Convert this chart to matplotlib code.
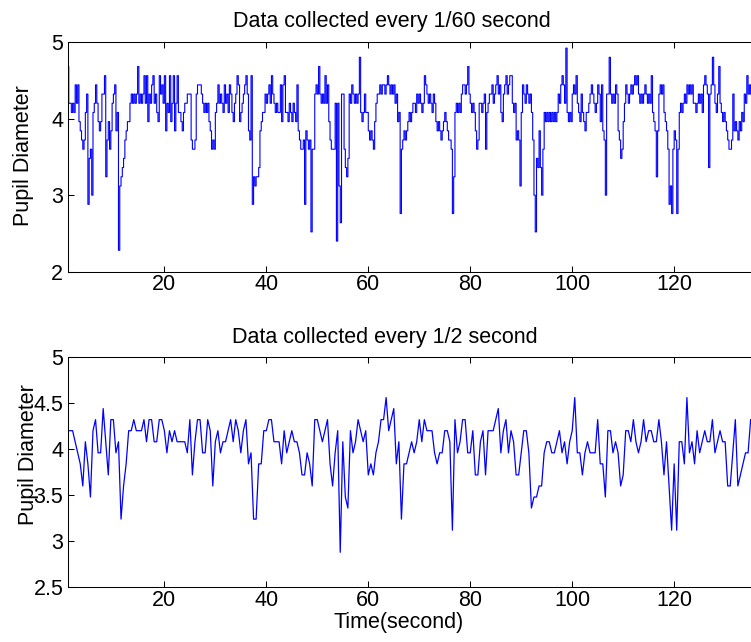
import matplotlib
matplotlib.use("Agg")
import matplotlib.pyplot as plt
import numpy as np

plt.rcParams['font.family'] = ['Liberation Sans', 'DejaVu Sans']

# pupil diameter is quantised in steps of 0.12, values stored as step counts
STEP = 0.12

# every 1/2 second, t = 1 ... 135
slow_levels = [
    35, 35, 35, 34, 33, 32, 30, 34, 32, 29, 35, 36, 33, 33, 37, 34, 31, 36, 36, 33,
    34, 27, 30, 32, 35, 35, 36, 35, 35, 35, 36, 34, 36, 36, 34, 34, 36, 36, 35, 33,
    35, 34, 35, 34, 34, 34, 34, 33, 36, 31, 34, 36, 36, 33, 33, 36, 35, 30, 34, 35,
    33, 34, 34, 35, 36, 34, 36, 35, 33, 35, 36, 32, 33, 27, 27, 32, 32, 35, 35, 36,
    36, 34, 34, 34, 32, 35, 33, 34, 35, 34, 34, 33, 31, 31, 33, 32, 30, 36, 36, 35,
    34, 35, 36, 32, 30, 33, 35, 24, 34, 29, 28, 35, 33, 34, 36, 35, 34, 35, 31, 32,
    31, 33, 34, 36, 36, 38, 35, 36, 37, 32, 34, 27, 32, 32, 33, 34, 33, 34, 36, 34,
    36, 35, 35, 35, 33, 32, 33, 33, 35, 35, 34, 26, 36, 33, 34, 36, 36, 33, 33, 35,
    31, 31, 34, 35, 31, 35, 35, 35, 36, 37, 33, 35, 36, 33, 35, 34, 31, 31, 33, 35,
    35, 33, 28, 29, 29, 30, 30, 33, 34, 34, 33, 33, 34, 35, 33, 34, 32, 34, 35, 38,
    33, 33, 31, 33, 34, 33, 33, 33, 36, 32, 32, 29, 35, 35, 33, 34, 33, 30, 31, 35,
    35, 34, 36, 34, 33, 34, 36, 34, 35, 35, 34, 34, 36, 34, 31, 34, 30, 26, 32, 26,
    34, 34, 32, 38, 33, 34, 32, 35, 33, 34, 35, 34, 34, 36, 33, 34, 35, 34, 34, 30,
    30, 33, 36, 30, 31, 32, 33, 33, 36,
]
slow_t0, slow_dt = 1.0, 0.5

fast_levels = [
    39, 35, 35, 34, 35, 34, 37, 35, 37, 33, 32, 31, 30, 31, 34, 36, 24, 29, 30, 25,
    34, 35, 37, 35, 33, 32, 33, 36, 36, 38, 27, 31, 33, 30, 32, 35, 36, 37, 32, 34,
    19, 26, 27, 28, 29, 31, 32, 33, 33, 35, 36, 35, 36, 35, 36, 39, 35, 36, 35, 36,
    38, 35, 38, 33, 36, 35, 37, 38, 35, 36, 34, 33, 38, 36, 37, 35, 38, 32, 35, 34,
    38, 33, 35, 38, 32, 35, 38, 34, 34, 33, 32, 34, 35, 35, 36, 36, 36, 31, 30, 30,
    31, 36, 37, 37, 37, 36, 35, 34, 35, 34, 35, 33, 32, 30, 31, 30, 34, 35, 37, 35,
    36, 35, 34, 37, 35, 36, 34, 37, 36, 34, 33, 35, 36, 38, 37, 33, 34, 35, 36, 37,
    38, 36, 32, 31, 38, 24, 27, 26, 27, 27, 28, 32, 33, 34, 34, 36, 35, 36, 37, 35,
    38, 36, 35, 34, 35, 34, 34, 37, 33, 37, 38, 34, 34, 33, 35, 34, 33, 35, 34, 33,
    37, 32, 31, 30, 30, 31, 24, 32, 31, 30, 31, 21, 30, 30, 36, 37, 36, 39, 36, 35,
    36, 35, 38, 35, 37, 33, 31, 30, 30, 30, 35, 20, 35, 26, 22, 36, 36, 30, 28, 27,
    29, 36, 35, 37, 36, 35, 36, 35, 36, 40, 34, 33, 34, 36, 34, 34, 32, 31, 32, 31,
    30, 33, 35, 36, 36, 37, 36, 37, 37, 36, 37, 38, 37, 36, 37, 36, 37, 35, 36, 33,
    34, 23, 30, 31, 32, 31, 32, 33, 34, 33, 34, 35, 35, 34, 36, 35, 36, 35, 34, 35,
    38, 37, 36, 35, 36, 35, 34, 36, 35, 33, 32, 33, 32, 31, 32, 33, 34, 33, 32, 31,
    31, 30, 23, 27, 34, 35, 34, 35, 34, 36, 37, 37, 36, 37, 39, 36, 35, 34, 35, 34,
    32, 30, 31, 35, 35, 34, 35, 36, 30, 34, 35, 36, 36, 37, 35, 36, 37, 38, 36, 37,
    34, 33, 36, 37, 38, 36, 37, 38, 38, 35, 34, 35, 31, 32, 31, 26, 34, 37, 36, 35,
    37, 36, 35, 36, 34, 31, 25, 21, 29, 28, 32, 28, 25, 30, 34, 33, 34, 33, 34, 33,
    34, 33, 34, 33, 34, 36, 35, 37, 38, 37, 35, 41, 34, 33, 34, 33, 36, 37, 36, 38,
    35, 34, 33, 36, 34, 33, 32, 34, 34, 35, 36, 37, 36, 35, 34, 35, 37, 36, 33, 37,
    32, 31, 25, 36, 36, 40, 36, 35, 36, 35, 37, 36, 32, 31, 29, 30, 33, 35, 37, 36,
    35, 36, 37, 36, 37, 38, 37, 38, 36, 35, 36, 35, 36, 37, 36, 35, 36, 35, 38, 34,
    33, 32, 27, 32, 36, 37, 36, 37, 34, 33, 32, 30, 24, 26, 23, 30, 32, 31, 23, 30,
    34, 35, 34, 35, 36, 35, 37, 36, 37, 36, 37, 35, 35, 34, 35, 36, 35, 36, 34, 37,
    38, 37, 36, 28, 36, 37, 40, 37, 35, 34, 36, 39, 35, 34, 33, 34, 33, 32, 31, 30,
    30, 31, 36, 32, 33, 32, 31, 33, 32, 34, 33, 36, 35, 38, 36, 37, 36,
]
fast_t0, fast_dt = 1.0, 0.25

slow = np.array(slow_levels) * STEP
fast = np.array(fast_levels) * STEP
t_slow = slow_t0 + slow_dt * np.arange(len(slow))
t_fast = fast_t0 + fast_dt * np.arange(len(fast))

W, H = 751, 642
fig = plt.figure(figsize=(W / 100, H / 100), dpi=100)

fs = 15.5
left = 67.5 / W
width = 139 * 5.098 / W   # x range 1..140, right side runs off the picture


def style(ax, ylim, yticks):
    ax.set_xlim(1, 140)
    ax.set_ylim(*ylim)
    ax.set_xticks([20, 40, 60, 80, 100, 120])
    ax.set_yticks(yticks)
    ax.set_yticklabels([('%g' % v) for v in yticks])
    ax.tick_params(direction='in', length=4.5, width=0.75, labelsize=fs,
                   top=True, right=True, pad=3)
    ax.tick_params(axis='x', pad=2)
    for s in ax.spines.values():
        s.set_linewidth(0.75)


ax1 = fig.add_axes([left, 1 - 271.7 / H, width, 229.7 / H])
ax1.plot(t_fast, fast, color='#0000ff', lw=0.8, drawstyle='steps-post')
style(ax1, (2, 5), [2, 3, 4, 5])

ax2 = fig.add_axes([left, 1 - 587.3 / H, width, 230.3 / H])
ax2.plot(t_slow, slow, color='#0000ff', lw=0.9)
style(ax2, (2.5, 5), [2.5, 3, 3.5, 4, 4.5, 5])

fig.text(392 / W, 1 - 27.5 / H, 'Data collected every 1/60 second', fontsize=fs,
         ha='center', va='baseline')
fig.text(385 / W, 1 - 342.5 / H, 'Data collected every 1/2 second', fontsize=fs,
         ha='center', va='baseline')
fig.text(399 / W, 1 - 628 / H, 'Time(second)', fontsize=fs,
         ha='center', va='baseline')
fig.text(24 / W, 1 - 156 / H, 'Pupil Diameter', fontsize=fs, rotation=90,
         ha='center', va='center')
fig.text(28.5 / W, 1 - 455 / H, 'Pupil Diameter', fontsize=fs, rotation=90,
         ha='center', va='center')

fig.savefig('out.png', dpi=100)
